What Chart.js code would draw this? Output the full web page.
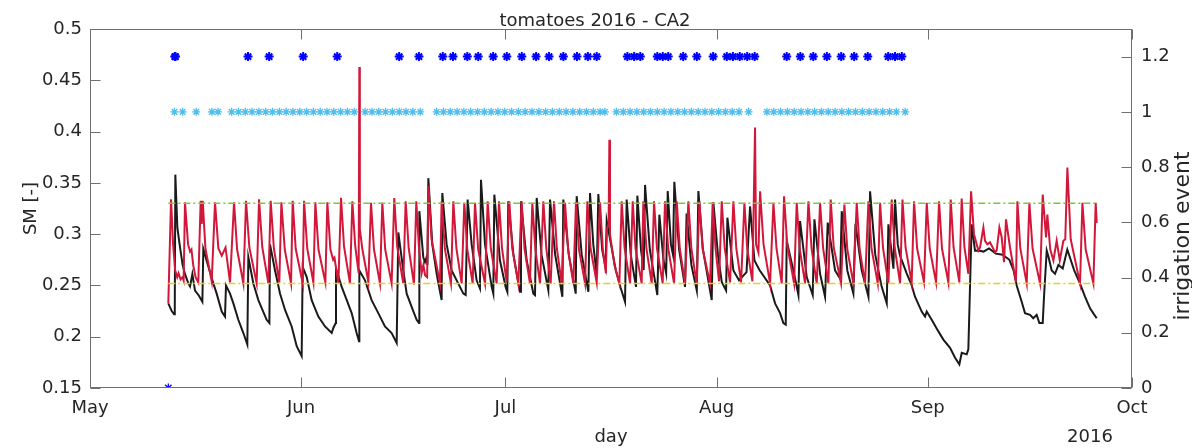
<!DOCTYPE html>
<html>
<head>
<meta charset="utf-8">
<title>tomatoes 2016 - CA2</title>
<script src="https://cdn.jsdelivr.net/npm/chart.js@4.4.1/dist/chart.umd.min.js"></script>
<style>
  html, body { margin: 0; padding: 0; background: #ffffff; }
  #wrap { width: 1192px; height: 448px; }
</style>
</head>
<body>
<div id="wrap"><canvas id="chart" width="1192" height="448"></canvas></div>
<script>
// x values are days counted from 1 May 2016 (0 = May 1, 153 = Oct 1)
const monthTickDays = [0, 31, 61, 92, 123, 153];
const monthTickLabels = ['May', 'Jun', 'Jul', 'Aug', 'Sep', 'Oct'];
const smTickValues = [0.15, 0.2, 0.25, 0.3, 0.35, 0.4, 0.45, 0.5];
const eventTickValues = [0, 0.2, 0.4, 0.6, 0.8, 1, 1.2];

// soil moisture thresholds and the period they are drawn over
const upperThreshold = 0.33;
const lowerThreshold = 0.252;
const thresholdSpan = [11.5, 147.8];

// modelled soil moisture [day, SM]
const smModel = [
  [11.5,0.2325],[11.9,0.334],[12.2,0.29],[12.5,0.265],[12.8,0.258],[13.0,0.262],[13.3,0.256],[13.6,0.258],[13.75,0.255],
  [13.95,0.331],[14.4,0.29],[14.7,0.283],[14.9,0.285],[15.15,0.27],[15.5,0.258],[15.9,0.253],
  [16.25,0.3325],[16.4,0.31],[16.55,0.3325],[16.95,0.286],[17.87,0.254],
  [18.36,0.331],[18.85,0.286],[19.35,0.279],[19.9,0.287],[20.56,0.253],
  [21.15,0.331],[21.6,0.285],[22.52,0.252],
  [22.91,0.3325],[23.4,0.287],[24.47,0.252],
  [24.82,0.334],[25.3,0.287],[26.19,0.252],
  [26.53,0.3325],[27.0,0.286],[27.8,0.253],
  [28.1,0.331],[28.6,0.285],[29.52,0.252],
  [29.76,0.3325],[30.2,0.286],[31.23,0.252],
  [31.43,0.3325],[31.9,0.286],[32.8,0.253],
  [33.09,0.331],[33.55,0.285],[34.56,0.253],
  [34.85,0.331],[35.3,0.285],[35.7,0.275],[35.9,0.277],[36.47,0.252],
  [36.86,0.3355],[37.3,0.288],[38.17,0.252],
  [38.52,0.332],[38.95,0.288],[39.45,0.262],[39.55,0.463],[39.62,0.305],[40.0,0.285],[40.87,0.2534],
  [41.26,0.3305],[41.7,0.285],[42.58,0.252],
  [42.92,0.3305],[43.35,0.285],[44.29,0.252],
  [44.68,0.3353],[45.1,0.288],[46.0,0.252],
  [46.35,0.332],[46.8,0.286],[47.57,0.251],
  [47.91,0.332],[48.3,0.287],[48.7,0.262],[48.95,0.27],[49.2,0.26],[49.5,0.258],
  [49.7,0.347],[50.15,0.295],[51.39,0.252],
  [51.63,0.332],[52.1,0.286],[53.0,0.252],
  [53.35,0.332],[53.8,0.286],[54.57,0.252],
  [54.96,0.3305],[55.4,0.285],[56.19,0.252],
  [56.53,0.3305],[57.0,0.285],[58.0,0.252],
  [58.39,0.332],[58.85,0.286],[59.71,0.252],
  [60.05,0.332],[60.5,0.286],[61.18,0.2534],
  [61.57,0.332],[62.0,0.286],[62.9,0.252],
  [63.38,0.332],[63.8,0.286],[64.6,0.252],
  [64.95,0.3305],[65.4,0.285],[66.08,0.252],
  [66.57,0.332],[67.0,0.286],[67.64,0.252],
  [68.13,0.332],[68.55,0.286],[69.26,0.252],
  [69.75,0.3305],[70.2,0.285],[70.97,0.252],
  [71.36,0.331],[71.8,0.285],[72.69,0.252],
  [73.03,0.332],[73.5,0.286],[74.4,0.253],
  [74.89,0.331],[75.3,0.285],[75.75,0.262],[75.9,0.305],[76.15,0.31],[76.26,0.392],[76.35,0.3],[77.0,0.27],[77.73,0.252],
  [78.07,0.332],[78.5,0.286],[79.3,0.252],
  [79.69,0.332],[80.1,0.286],[81.0,0.252],
  [81.25,0.332],[81.7,0.286],[82.48,0.252],
  [82.82,0.332],[83.25,0.286],[84.09,0.252],
  [84.43,0.332],[84.9,0.286],[85.76,0.252],
  [86.15,0.332],[86.6,0.286],[87.37,0.252],
  [87.86,0.332],[88.3,0.286],[89.08,0.252],
  [89.48,0.332],[89.95,0.286],[91.04,0.252],
  [91.43,0.331],[91.85,0.286],[92.37,0.254],
  [92.76,0.332],[93.2,0.286],[93.98,0.253],
  [94.47,0.332],[94.9,0.286],[95.6,0.253],
  [96.09,0.3305],[96.5,0.286],[97.26,0.254],
  [97.65,0.404],[97.8,0.29],[98.15,0.282],[98.39,0.3417],[98.9,0.29],[99.86,0.252],
  [100.35,0.3305],[100.8,0.286],[101.57,0.252],
  [101.91,0.3369],[102.4,0.288],[103.38,0.252],
  [103.77,0.3305],[104.2,0.286],[105.0,0.252],
  [105.49,0.332],[105.95,0.286],[106.71,0.252],
  [107.2,0.3305],[107.65,0.286],[108.42,0.252],
  [108.76,0.3337],[109.2,0.287],[110.28,0.252],
  [110.77,0.3289],[111.2,0.285],[112.09,0.252],
  [112.58,0.3305],[113.0,0.286],[113.8,0.252],
  [114.3,0.332],[114.75,0.286],[115.67,0.252],
  [116.01,0.3305],[116.45,0.286],[117.23,0.252],
  [117.72,0.3337],[118.15,0.287],[118.95,0.252],
  [119.3,0.3337],[119.75,0.287],[120.65,0.253],
  [121.0,0.332],[121.45,0.286],[122.46,0.253],
  [122.86,0.3305],[123.3,0.286],[124.23,0.253],
  [124.67,0.332],[125.1,0.286],[126.04,0.253],
  [126.38,0.3337],[126.8,0.287],[127.65,0.253],
  [127.99,0.3347],[128.4,0.287],[128.97,0.2614],
  [129.37,0.3417],[129.8,0.3],[130.44,0.284],[130.69,0.287],[131.18,0.3064],[131.42,0.2935],[131.76,0.29],[132.15,0.292],
  [132.65,0.2855],[132.89,0.2823],[133.13,0.284],[133.53,0.3064],[133.87,0.2968],[134.21,0.2727],[134.5,0.3144],
  [135.09,0.287],[135.58,0.268],[135.97,0.2534],
  [136.17,0.332],[136.6,0.286],[137.54,0.252],
  [137.93,0.3305],[138.4,0.286],[139.5,0.252],
  [139.89,0.3385],[140.38,0.2968],[140.57,0.319],[141.0,0.285],[141.46,0.2743],[141.94,0.2935],[142.4,0.2743],
  [142.92,0.2935],[143.2,0.295],[143.51,0.365],[144.0,0.295],[145.37,0.252],
  [145.72,0.3305],[146.2,0.285],[147.33,0.252],
  [147.67,0.3305],[147.82,0.311]
];

// measured soil moisture [day, SM]
const smSensor = [
  [11.5,0.2325],[12.0,0.225],[12.35,0.222],[12.45,0.23],[12.53,0.358],[12.83,0.306],[13.22,0.287],[13.6,0.27],[13.95,0.261],
  [14.44,0.252],[14.69,0.249],[15.03,0.261],[15.42,0.245],[16.0,0.24],[16.5,0.234],
  [16.64,0.2855],[17.13,0.274],[18.11,0.252],[18.6,0.242],[19.34,0.2245],[19.82,0.2197],
  [19.97,0.25],[20.56,0.242],[21.05,0.2325],[21.78,0.2165],[22.52,0.2036],[23.1,0.1924],
  [23.25,0.2775],[23.99,0.2518],[24.72,0.2357],[25.94,0.2165],[26.34,0.2133],
  [26.43,0.29],[27.17,0.2646],[27.9,0.2422],[28.64,0.2261],[29.61,0.21],[30.35,0.1908],[31.08,0.1811],
  [31.23,0.2679],[31.82,0.2582],[32.55,0.2357],[33.53,0.2197],[34.51,0.21],[35.49,0.2036],[35.73,0.2085],[36.08,0.2133],
  [36.12,0.2663],[36.96,0.2486],[37.7,0.2357],[38.42,0.223],[39.15,0.2036],[39.5,0.1956],
  [39.55,0.2646],[40.38,0.255],[41.35,0.2357],[42.33,0.223],[43.31,0.21],[44.29,0.2036],[45.03,0.194],
  [45.27,0.3016],[46.0,0.2646],[46.5,0.242],[47.23,0.229],[47.96,0.2165],[48.31,0.2133],
  [48.36,0.3224],[48.94,0.2775],[49.19,0.2727],[49.43,0.2775],[49.55,0.27],
  [49.68,0.3546],[50.26,0.29],[50.9,0.2614],[51.63,0.2357],
  [51.73,0.34],[52.37,0.29],[53.1,0.2646],[54.82,0.242],[55.16,0.2406],
  [55.45,0.3337],[56.04,0.29],[56.77,0.255],[57.26,0.247],
  [57.41,0.353],[58.0,0.29],[58.98,0.2486],[59.22,0.242],
  [59.37,0.3385],[60.2,0.2743],[61.03,0.2486],[61.28,0.2438],
  [61.42,0.332],[62.16,0.2807],[62.9,0.2518],[63.14,0.2438],
  [63.28,0.332],[64.12,0.2743],[65.1,0.242],[65.34,0.2406],
  [65.59,0.3353],[66.3,0.28],[67.3,0.2454],
  [67.55,0.3337],[68.3,0.28],[69.36,0.239],
  [69.5,0.3337],[70.3,0.28],[71.32,0.242],
  [71.46,0.337],[72.2,0.28],[73.18,0.2438],
  [73.42,0.34],[73.9,0.29],[74.4,0.26],
  [74.64,0.339],[75.2,0.285],[75.7,0.268],
  [75.87,0.313],[76.5,0.29],[77.2,0.265],[77.9,0.248],[78.56,0.234],
  [78.8,0.3337],[79.4,0.28],[80.17,0.2486],
  [80.37,0.3375],[80.9,0.285],[81.3,0.265],
  [81.5,0.348],[82.2,0.285],[83.3,0.2406],
  [83.6,0.319],[84.2,0.275],[84.6,0.262],
  [84.83,0.342],[85.3,0.29],[85.6,0.28],
  [85.8,0.351],[86.5,0.285],[87.37,0.2486],
  [87.6,0.32],[88.3,0.27],[89.1,0.245],
  [89.33,0.342],[90.0,0.285],[91.29,0.2357],
  [91.53,0.331],[92.2,0.28],[92.76,0.2534],[93.4,0.245],
  [93.59,0.316],[94.47,0.2646],[95.3,0.255],[96.4,0.263],
  [96.92,0.327],[97.56,0.2743],[98.3,0.265],[99.86,0.25],[100.59,0.2325],[101.33,0.223],[101.81,0.2133],[102.16,0.2117],
  [102.3,0.2935],[103.28,0.2646],[104.02,0.2406],
  [104.26,0.3128],[105.24,0.2582],[106.12,0.2406],
  [106.37,0.3144],[107.2,0.2614],[107.93,0.239],
  [108.32,0.3112],[109.4,0.2646],[110.14,0.2566],
  [110.38,0.3224],[111.2,0.2646],[112.09,0.242],
  [112.4,0.31],[113.3,0.265],[114.3,0.239],
  [114.54,0.3417],[115.3,0.28],[116.2,0.25],[116.99,0.2325],
  [117.23,0.3096],[117.97,0.2663],
  [118.21,0.3337],[118.6,0.29],[118.94,0.279],[119.9,0.262],[120.65,0.25],[121.14,0.239],[122.12,0.2245],[122.61,0.2197],
  [122.86,0.2245],[123.59,0.2165],[124.57,0.2052],[125.3,0.1972],[126.28,0.1892],[127.02,0.1795],[127.65,0.1731],
  [128.0,0.1844],[128.73,0.1828],[128.97,0.1876],
  [129.46,0.3096],[129.95,0.2839],[130.44,0.284],[131.2,0.283],[132.0,0.286],[133.0,0.281],[134.0,0.28],[135.0,0.275],
  [135.6,0.265],[136.07,0.25],[136.8,0.2341],[137.29,0.223],[138.03,0.2213],[138.5,0.218],[139.0,0.2213],[139.4,0.2133],[139.89,0.2133],
  [140.08,0.239],[140.48,0.284],[140.7,0.279],[141.21,0.2646],[141.7,0.2614],[142.2,0.27],[142.83,0.2666],[143.5,0.285],
  [144.5,0.265],[145.37,0.2518],[146.1,0.239],[146.84,0.2277],[147.4,0.222],[147.82,0.218]
];

// irrigation events (right axis): scheduled ones plotted at 1.2, applied ones at 1.0
const eventLevelScheduled = 1.2;
const eventLevelApplied = 1.0;
const scheduledEventDays = [
  12.45, 12.55, 23.2, 26.3, 31.3, 36.3, 45.4, 48.3, 51.8, 53.3, 55.4, 57.0, 59.2, 61.2, 63.4, 65.5, 67.4, 69.5,
  71.5, 73.1, 74.4, 78.9, 79.9, 80.8, 83.3, 84.1, 84.9, 87.1, 89.1, 91.5, 93.5, 94.4, 95.4, 96.5, 97.6,
  102.3, 104.3, 106.2, 108.2, 110.3, 112.2, 114.2, 117.2, 118.2, 119.2
];
const appliedEventDays = [
  12.4, 13.6, 15.6, 17.9, 18.8,
  20.8, 21.8, 22.8, 23.8, 24.8, 25.8, 26.8, 27.8, 28.8, 29.8, 30.8, 31.8, 32.8, 33.8, 34.8, 35.8, 36.8, 37.8, 38.8,
  40.4, 41.4, 42.4, 43.4, 44.4, 45.4, 46.4, 47.4, 48.5,
  50.9, 51.9, 52.9, 53.9, 54.9, 55.9, 56.9, 57.9, 58.9, 59.9, 60.9, 61.9, 62.9, 63.9, 64.9, 65.9, 66.9, 67.9,
  68.9, 69.9, 70.9, 71.9, 72.9, 73.9, 74.9, 75.6,
  77.3, 78.3, 79.3, 80.3, 81.3, 82.3, 83.3, 84.3, 85.3, 86.3, 87.3, 88.3, 89.3, 90.3, 91.3, 92.3, 93.3, 94.3, 95.3, 96.7,
  99.4, 100.4, 101.4, 102.4, 103.4, 104.4, 105.4, 106.4, 107.4, 108.4, 109.4, 110.4, 111.4, 112.4, 113.4, 114.4,
  115.4, 116.4, 117.4, 118.4, 119.7
];
const zeroEventDays = [11.5];

const FONT = "'DejaVu Sans', 'Liberation Sans', Arial, sans-serif";
const TEXT_COLOR = '#262626';
const AXIS_COLOR = '#6f6f6f';

const toPoints = rows => rows.map(([d, v]) => ({ x: d, y: v }));
const levelPoints = (days, level) => days.map(d => ({ x: d, y: level }));
const fmt = v => String(Number(v.toFixed(2)));

// box, inward tick marks and free text (title, axis names, year)
const frameAndText = {
  id: 'frameAndText',
  afterDatasetsDraw(chart) {
    const { ctx, chartArea: a, scales } = chart;
    ctx.save();
    ctx.strokeStyle = AXIS_COLOR;
    ctx.lineWidth = 1;
    const seg = (x1, y1, x2, y2) => { ctx.beginPath(); ctx.moveTo(x1, y1); ctx.lineTo(x2, y2); ctx.stroke(); };
    const L = Math.round(a.left) + 0.5, R = Math.round(a.right) - 0.5;
    const T = Math.round(a.top) + 0.5, B = Math.round(a.bottom) - 0.5;
    ctx.strokeRect(L, T, R - L, B - T);
    const tick = 10;
    scales.x.ticks.forEach(t => {
      const px = Math.round(scales.x.getPixelForValue(t.value)) + 0.5;
      seg(px, B, px, B - tick);
      seg(px, T, px, T + tick);
    });
    scales.y.ticks.forEach(t => {
      const py = Math.round(scales.y.getPixelForValue(t.value)) + 0.5;
      seg(L, py, L + tick, py);
    });
    scales.y2.ticks.forEach(t => {
      const py = Math.round(scales.y2.getPixelForValue(t.value)) + 0.5;
      seg(R, py, R - tick, py);
    });
    ctx.restore();
  },
  afterDraw(chart) {
    const { ctx, chartArea: a } = chart;
    const midY = (a.top + a.bottom) / 2;
    ctx.save();
    ctx.fillStyle = TEXT_COLOR;
    ctx.font = '18px ' + FONT;
    ctx.textAlign = 'center';
    ctx.textBaseline = 'alphabetic';
    ctx.fillText('tomatoes 2016 - CA2', 595, 26);
    ctx.fillText('day', 611, 442);
    ctx.fillText('2016', 1090, 442);

    ctx.save();
    ctx.translate(36, midY);
    ctx.rotate(-Math.PI / 2);
    ctx.fillText('SM [-]', 0, 0);
    ctx.restore();

    ctx.save();
    ctx.font = '22px ' + FONT;
    ctx.translate(1189, 236);
    ctx.rotate(-Math.PI / 2);
    ctx.fillText('irrigation event', 0, 0);
    ctx.restore();
    ctx.restore();
  }
};

Chart.defaults.font.family = FONT;
Chart.defaults.font.size = 18;
Chart.defaults.color = TEXT_COLOR;

const lineStyle = (color, width) => ({
  showLine: true, borderColor: color, backgroundColor: color, borderWidth: width,
  pointRadius: 0, pointHoverRadius: 0, tension: 0, fill: false
});

new Chart(document.getElementById('chart'), {
  type: 'scatter',
  data: {
    datasets: [
      Object.assign({ label: 'scheduled', data: levelPoints(scheduledEventDays, eventLevelScheduled), yAxisID: 'y2',
        showLine: false, pointStyle: 'star', pointRadius: 4.5, borderColor: '#0000ff', borderWidth: 2, order: 0 }),
      Object.assign({ label: 'applied', data: levelPoints(appliedEventDays, eventLevelApplied), yAxisID: 'y2',
        showLine: false, pointStyle: 'star', pointRadius: 4, borderColor: '#4dbeee', borderWidth: 1.3, order: 0 }),
      Object.assign({ label: 'no event', data: levelPoints(zeroEventDays, 0), yAxisID: 'y2',
        showLine: false, pointStyle: 'star', pointRadius: 4.5, borderColor: '#0000ff', borderWidth: 1.3, order: 0 }),
      Object.assign(lineStyle('#77cc33', 1.5), { label: 'upper', yAxisID: 'y', borderDash: [7, 3, 2, 3], order: 1,
        data: thresholdSpan.map(d => ({ x: d, y: upperThreshold })) }),
      Object.assign(lineStyle('#e6d21c', 1.5), { label: 'lower', yAxisID: 'y', borderDash: [7, 3, 2, 3], order: 1,
        data: thresholdSpan.map(d => ({ x: d, y: lowerThreshold })) }),
      Object.assign(lineStyle('#d2183a', 2), { label: 'model', yAxisID: 'y', order: 2, data: toPoints(smModel) }),
      Object.assign(lineStyle('#1a1a1a', 2), { label: 'sensor', yAxisID: 'y', order: 3, data: toPoints(smSensor) })
    ]
  },
  options: {
    responsive: false,
    animation: false,
    events: [],
    layout: { padding: { top: 29, left: 0, right: 0, bottom: 0 } },
    plugins: { legend: { display: false }, tooltip: { enabled: false }, title: { display: false } },
    scales: {
      x: {
        type: 'linear', position: 'bottom', min: 0, max: 153,
        grid: { display: false, drawTicks: false }, border: { display: false },
        afterBuildTicks: s => { s.ticks = monthTickDays.map(v => ({ value: v })); },
        afterFit: s => { s.height = 60; },
        ticks: { padding: 10, autoSkip: false, maxRotation: 0,
          callback: v => monthTickLabels[monthTickDays.indexOf(v)] }
      },
      y: {
        type: 'linear', position: 'left', min: 0.15, max: 0.5,
        grid: { display: false, drawTicks: false }, border: { display: false },
        afterBuildTicks: s => { s.ticks = smTickValues.map(v => ({ value: v })); },
        afterFit: s => { s.width = 90; },
        ticks: { padding: 8, callback: v => fmt(v) }
      },
      y2: {
        type: 'linear', position: 'right', min: 0, max: 1.3,
        grid: { display: false, drawTicks: false }, border: { display: false },
        afterBuildTicks: s => { s.ticks = eventTickValues.map(v => ({ value: v })); },
        afterFit: s => { s.width = 60; },
        ticks: { padding: 9, callback: v => fmt(v) }
      }
    }
  },
  plugins: [frameAndText]
});
</script>
</body>
</html>
